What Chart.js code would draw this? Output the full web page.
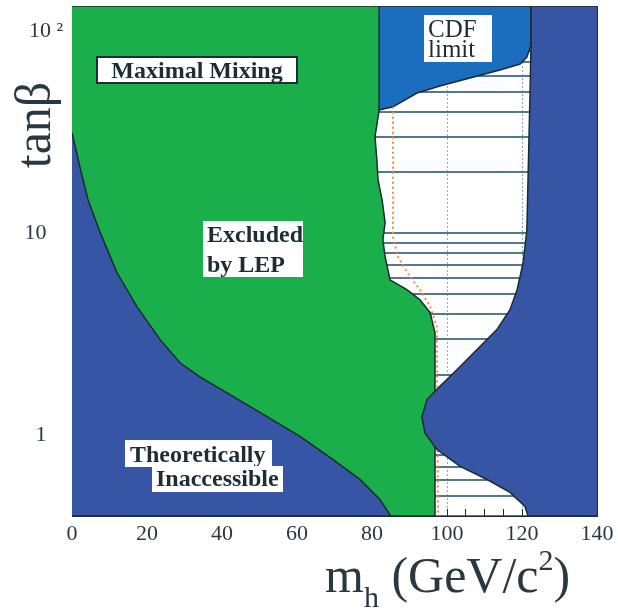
<!DOCTYPE html>
<html>
<head>
<meta charset="utf-8">
<script src="https://cdn.jsdelivr.net/npm/chart.js@4.4.1/dist/chart.umd.min.js"></script>
<style>
	html, body { margin: 0; padding: 0; background: #fff; }
	canvas { display: block; }
</style>
</head>
<body>
<canvas id="chart" width="618" height="615"></canvas>
<script>
// axis ranges and tick labels
const mhRange = [0, 140];
const tanbRange = [0.4, 133];
const mhTickLabels = [0, 20, 40, 60, 80, 100, 120, 140];
const tanbTickLabels = { 1: '1   ', 10: '10   ', 100: '10 ²' };

// theoretically inaccessible region (lower left), upper edge
const theoryMh   = [0, 2.1, 4.3, 7.5, 12.0, 17.3, 23.5, 28.8, 34.1, 42.9, 52.0, 60.8, 69.6, 76.8, 82.1, 85.0];
const theoryTanb = [31.4, 21.3, 14.6, 10.1, 6.38, 4.34, 2.98, 2.29, 1.95, 1.56, 1.24, 0.99, 0.76, 0.607, 0.483, 0.4];

// LEP excluded region, right edge
const lepMh   = [81.9, 81.9, 80.8, 81.3, 81.6, 82.7, 83.5, 82.9, 83.5, 84.8, 89.3, 92.8, 95.5, 96.8, 96.8];
const lepTanb = [133, 40.7, 30.0, 23.1, 18.4, 14.6, 11.3, 9.29, 7.66, 5.89, 5.26, 4.69, 4.05, 3.22, 0.4];

// CDF limit, lower edge
const cdfMh   = [81.9, 85.6, 92.0, 98.1, 106.1, 114.1, 119.5, 121.3, 122.4, 122.4];
const cdfTanb = [40.7, 42.2, 49.4, 53.5, 58.6, 64.2, 68.7, 74.4, 85.3, 133];

// theoretically inaccessible region (right), left edge
const upperMh   = [122.4, 122.4, 122.1, 121.6, 121.3, 120.3, 118.7, 116.8, 113.3, 108.0, 102.7, 98.1, 94.7, 93.3, 94.1, 97.3, 103.5, 110.7, 116.8, 120.8, 121.6];
const upperTanb = [133, 85.3, 45.6, 18.4, 10.4, 7.15, 5.26, 4.19, 3.34, 2.66, 2.12, 1.75, 1.51, 1.24, 1.03, 0.853, 0.703, 0.606, 0.523, 0.446, 0.4];

// expected limit (dotted)
const expMh   = [85.6, 85.6, 86.9, 90.1, 92.8, 95.5, 97.3, 97.6];
const expTanb = [42.2, 9.6, 7.66, 6.1, 5.26, 4.34, 3.45, 0.4];

const ink = '#1e2c36';
const serif = '"Liberation Serif", "DejaVu Serif", serif';
const clear = 'rgba(0,0,0,0)';

const pts = (xs, ys) => xs.map((x, i) => ({ x, y: ys[i] }));
const [xMin, xMax] = mhRange;
const [yMin, yMax] = tanbRange;

const theoryPoly = [...pts(theoryMh, theoryTanb), { x: xMin, y: yMin }];
const lepPoly = [{ x: xMin, y: yMax }, ...pts(lepMh, lepTanb), { x: xMin, y: yMin }];
const cdfPoly = [...pts(cdfMh, cdfTanb), { x: cdfMh[0], y: yMax }];
const upperPoly = [{ x: xMax, y: yMax }, ...pts(upperMh, upperTanb), { x: xMax, y: yMin }];

// text boxes: top-left corner in data units, size in px
const textBoxes = [
	{ lines: ['Maximal Mixing'], mh: 6.67, tanb: 74.4, w: 200, h: 26, frame: true, center: true, base: [21], font: 'bold 24px ' + serif },
	{ lines: ['Excluded', 'by LEP'], mh: 34.9, tanb: 11.5, w: 100, h: 56, pad: 4, base: [21, 51], font: 'bold 24px ' + serif },
	{ lines: ['CDF', 'limit'], mh: 93.9, tanb: 120, w: 68, h: 47, pad: 4, base: [22, 42], font: '25px ' + serif },
	{ lines: ['Theoretically'], mh: 14.1, tanb: 0.955, w: 147, h: 27, pad: 5, base: [22], font: 'bold 24px ' + serif },
	{ lines: ['Inaccessible'], mh: 21.3, tanb: 0.703, w: 131, h: 26, pad: 4, base: [20], font: 'bold 24px ' + serif }
];

const titleX = [
	{ text: 'm', size: 50, dy: 0 },
	{ text: 'h', size: 30, dy: 15 },
	{ text: ' (GeV/c', size: 50, dy: 0 },
	{ text: '2', size: 30, dy: -22 },
	{ text: ')', size: 50, dy: 0 }
];

const roundLog = v => {
	if (v >= yMax) return false;
	const e = Math.floor(Math.log10(v) + 1e-9);
	const m = v / Math.pow(10, e);
	return Math.abs(m - Math.round(m)) < 1e-6;
};

const noPad = s => {
	s.paddingTop = 0;
	s.paddingBottom = 0;
	s.paddingLeft = 0;
	s.paddingRight = 0;
};

const annotations = {
	id: 'annotations',
	afterDatasetsDraw(chart) {
		const { ctx, scales: { x, y } } = chart;
		ctx.save();
		for (const box of textBoxes) {
			const left = Math.round(x.getPixelForValue(box.mh));
			const top = Math.round(y.getPixelForValue(box.tanb));
			ctx.fillStyle = '#ffffff';
			ctx.fillRect(left, top, box.w, box.h);
			if (box.frame) {
				ctx.lineWidth = 2;
				ctx.strokeStyle = ink;
				ctx.strokeRect(left, top, box.w, box.h);
			}
			ctx.font = box.font;
			ctx.fillStyle = ink;
			ctx.textBaseline = 'alphabetic';
			box.lines.forEach((line, i) => {
				if (box.center) {
					ctx.textAlign = 'center';
					ctx.fillText(line, left + box.w / 2, top + box.base[i]);
				} else {
					ctx.textAlign = 'left';
					ctx.fillText(line, left + box.pad, top + box.base[i]);
				}
			});
		}
		ctx.restore();
	},
	afterDraw(chart) {
		const { ctx, chartArea: area } = chart;
		ctx.save();
		ctx.fillStyle = '#2a3842';
		ctx.textBaseline = 'alphabetic';
		ctx.textAlign = 'left';
		// x title
		let cx = area.left + 253;
		const base = area.bottom + 76;
		for (const part of titleX) {
			ctx.font = part.size + 'px ' + serif;
			ctx.fillText(part.text, cx, base + part.dy);
			cx += ctx.measureText(part.text).width;
		}
		// y title
		ctx.translate(50, area.top + 119);
		ctx.rotate(-Math.PI / 2);
		ctx.textAlign = 'center';
		ctx.font = '50px ' + serif;
		ctx.fillText('tanβ', 0, 0);
		ctx.restore();
	}
};

const region = (data, color, order) => ({
	data, order,
	xAxisID: 'x', yAxisID: 'y',
	showLine: true,
	fill: 'shape',
	backgroundColor: color,
	borderColor: '#1b2a30',
	borderWidth: 1.5,
	pointRadius: 0,
	tension: 0,
	clip: 0
});

const tickOnly = (type, position, min, max, extra) => ({
	type, position, min, max,
	weight: 0,
	z: 1,
	afterFit: s => {
		if (position === 'top' || position === 'bottom') s.height = 0; else s.width = 0;
		noPad(s);
	},
	border: { display: true, color: ink, width: 1 },
	grid: {
		drawOnChartArea: false,
		drawTicks: true,
		tickLength: -7,
		tickWidth: 1,
		tickColor: c => (type === 'logarithmic' && c.tick && !roundLog(c.tick.value)) ? clear : ink
	},
	ticks: Object.assign({ display: false, autoSkip: false }, extra)
});

new Chart(document.getElementById('chart'), {
	type: 'scatter',
	data: {
		datasets: [
			region(upperPoly, '#3755a5', 1),
			{
				data: pts(expMh, expTanb),
				order: 2,
				xAxisID: 'x', yAxisID: 'y',
				showLine: true,
				fill: false,
				borderColor: '#ef8a48',
				borderWidth: 2,
				borderDash: [2, 3],
				pointRadius: 0,
				clip: 0
			},
			region(theoryPoly, '#3755a5', 3),
			region(lepPoly, '#1aaf4b', 4),
			region(cdfPoly, '#1b6ebe', 5)
		]
	},
	options: {
		responsive: false,
		animation: false,
		devicePixelRatio: 1,
		layout: { padding: { left: 0, right: 21, top: 6, bottom: 0 } },
		plugins: {
			legend: { display: false },
			tooltip: { enabled: false }
		},
		scales: {
			x: {
				type: 'linear', position: 'bottom', min: xMin, max: xMax, weight: 1,
				afterFit: s => { s.height = 99; noPad(s); },
				border: { display: false, dash: [2, 2] },
				grid: {
					drawTicks: false,
					lineWidth: 1,
					color: c => (c.tick && c.tick.value % 20 === 0 && c.tick.value > xMin && c.tick.value < xMax) ? '#86aacb' : clear
				},
				ticks: {
					stepSize: 5, autoSkip: false, maxRotation: 0, padding: 5,
					color: '#2a3842', font: { family: serif, size: 22 },
					callback: v => mhTickLabels.includes(v) ? String(v) : ''
				}
			},
			y: {
				type: 'logarithmic', position: 'left', min: yMin, max: yMax, weight: 1,
				afterFit: s => { s.width = 72; noPad(s); },
				border: { display: false },
				grid: {
					drawTicks: false,
					lineWidth: 2,
					color: c => (c.tick && roundLog(c.tick.value)) ? '#56788f' : clear
				},
				ticks: {
					autoSkip: false, padding: 9,
					color: '#2a3842', font: { family: serif, size: 22 },
					callback: v => tanbTickLabels[v] || ''
				}
			},
			xb: tickOnly('linear', 'bottom', xMin, xMax, { stepSize: 5 }),
			xt: tickOnly('linear', 'top', xMin, xMax, { stepSize: 5 }),
			yl: tickOnly('logarithmic', 'left', yMin, yMax, {}),
			yr: tickOnly('logarithmic', 'right', yMin, yMax, {})
		}
	},
	plugins: [annotations]
});
</script>
</body>
</html>
